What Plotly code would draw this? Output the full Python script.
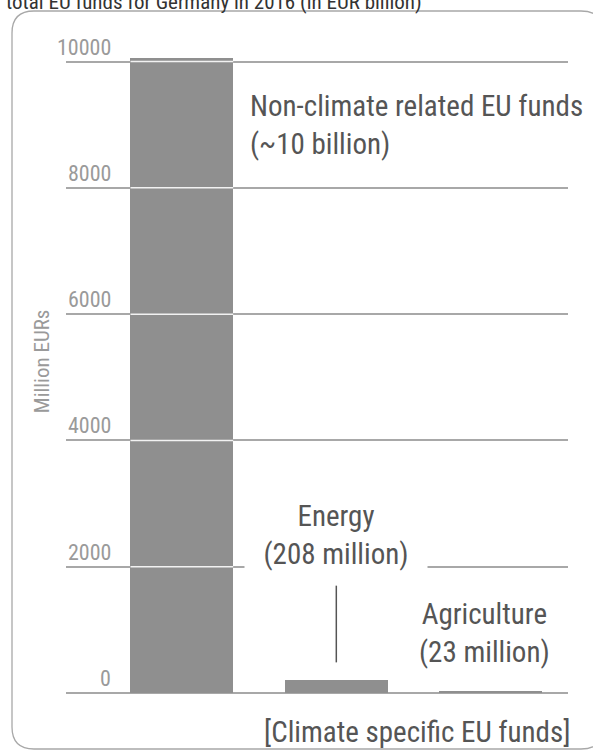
import plotly.graph_objects as go

# --- data -------------------------------------------------------------
categories = ["Non-climate", "Energy", "Agriculture"]
values = [10060, 208, 23]          # million EUR
bar_labels = [
    "Non-climate related EU funds<br>(~10 billion)",
    "Energy<br>(208 million)",
    "Agriculture<br>(23 million)",
]
tick_values = [0, 2000, 4000, 6000, 8000, 10000]
tick_labels = ["0", "2000", "4000", "6000", "8000", "10000"]

title_text = "total EU funds for Germany in 2016 (in EUR billion)"
y_title = "Million EURs"
footer_text = "[Climate specific EU funds]"

# --- styling ----------------------------------------------------------
FONT = '"Liberation Sans Narrow", "Roboto Condensed", "DejaVu Sans Condensed", Lato, sans-serif'
BAR = "#8f8f8f"
GRID = "#a8a8a8"
TEXT = "#555555"
LIGHT = "#9a9a9a"
W, H = 593, 751
M = dict(l=66, r=25, t=30, b=58)
BAR_W = 0.665

fig = go.Figure(
    go.Bar(
        x=list(range(len(categories))),
        y=values,
        width=BAR_W,
        marker=dict(color=BAR, line=dict(width=0)),
        hoverinfo="skip",
    )
)

# white grid strokes where the grid crosses a bar
for i, v in enumerate(values):
    for t in tick_values[1:]:
        if v > t:
            fig.add_shape(type="line", xref="x", yref="y",
                          x0=i - BAR_W / 2, x1=i + BAR_W / 2, y0=t, y1=t,
                          line=dict(color="#f2f2f2", width=1.5), layer="above")

# tick labels sit above their grid lines, inside the plot
tick_x = (113 - M["l"]) / (W - M["l"] - M["r"])
for v, s in zip(tick_values, tick_labels):
    fig.add_annotation(x=tick_x, xref="paper", y=v, yref="y", text=s,
                       showarrow=False, xanchor="right", yanchor="bottom",
                       font=dict(family=FONT, size=22, color=LIGHT))

# category labels
fig.add_annotation(x=0.43, y=9000, xref="x", yref="y", text=bar_labels[0],
                   showarrow=False, xanchor="left", yanchor="middle", align="left",
                   font=dict(family=FONT, size=29, color=TEXT))
fig.add_annotation(x=1, y=2500, xref="x", yref="y", text=bar_labels[1],
                   showarrow=False, xanchor="center", yanchor="middle", align="center",
                   bgcolor="white", borderpad=8, width=166,
                   font=dict(family=FONT, size=29, color=TEXT))
fig.add_annotation(x=2, y=955, xref="x", yref="y", text=bar_labels[2], xshift=-6,
                   showarrow=False, xanchor="center", yanchor="middle", align="center",
                   font=dict(family=FONT, size=29, color=TEXT))

# leader line from the energy label down to its bar
fig.add_shape(type="line", xref="x", yref="y", x0=1, x1=1, y0=485, y1=1700,
              line=dict(color=TEXT, width=1.5))

# axis title, footer and heading
fig.add_annotation(x=(41.7 - M["l"]) / (W - M["l"] - M["r"]), y=0.5,
                   xref="paper", yref="paper", text=y_title, textangle=-90,
                   showarrow=False, xanchor="center", yanchor="middle",
                   font=dict(family=FONT, size=21, color=LIGHT))
fig.add_annotation(x=0.70, y=-0.059, xref="paper", yref="paper", text=footer_text,
                   showarrow=False, xanchor="center", yanchor="middle",
                   font=dict(family=FONT, size=29, color=TEXT))
fig.add_annotation(x=-0.1235, y=1.021, xref="paper", yref="paper", text=title_text,
                   showarrow=False, xanchor="left", yanchor="bottom",
                   font=dict(family=FONT, size=21, color="#333333"))

# rounded frame around the chart
pw, ph = W - M["l"] - M["r"], H - M["t"] - M["b"]
def px(x):
    return (x - M["l"]) / pw
def py(y):
    return (H - M["b"] - y) / ph
L, R, T, B, r = 12, 603, 11, 749, 22
path = (f"M {px(L)},{py(B - r)} L {px(L)},{py(T + r)} Q {px(L)},{py(T)} {px(L + r)},{py(T)} "
        f"L {px(R - r)},{py(T)} Q {px(R)},{py(T)} {px(R)},{py(T + r)} "
        f"L {px(R)},{py(B - r)} Q {px(R)},{py(B)} {px(R - r)},{py(B)} "
        f"L {px(L + r)},{py(B)} Q {px(L)},{py(B)} {px(L)},{py(B - r)} Z")
fig.add_shape(type="path", xref="paper", yref="paper", path=path,
              line=dict(color="#a8a8a8", width=1.3), layer="below")

fig.update_layout(
    width=W, height=H, margin=M,
    paper_bgcolor="white", plot_bgcolor="white",
    showlegend=False, bargap=0,
    xaxis=dict(range=[-0.75, 2.5], showticklabels=False, showgrid=False,
               zeroline=False, showline=False, fixedrange=True),
    yaxis=dict(range=[0, 10500], tickvals=tick_values, showticklabels=False,
               showgrid=True, gridcolor=GRID, gridwidth=1.5,
               zeroline=True, zerolinecolor=GRID, zerolinewidth=1.5,
               showline=False, fixedrange=True),
)

fig.write_html("out.html")
